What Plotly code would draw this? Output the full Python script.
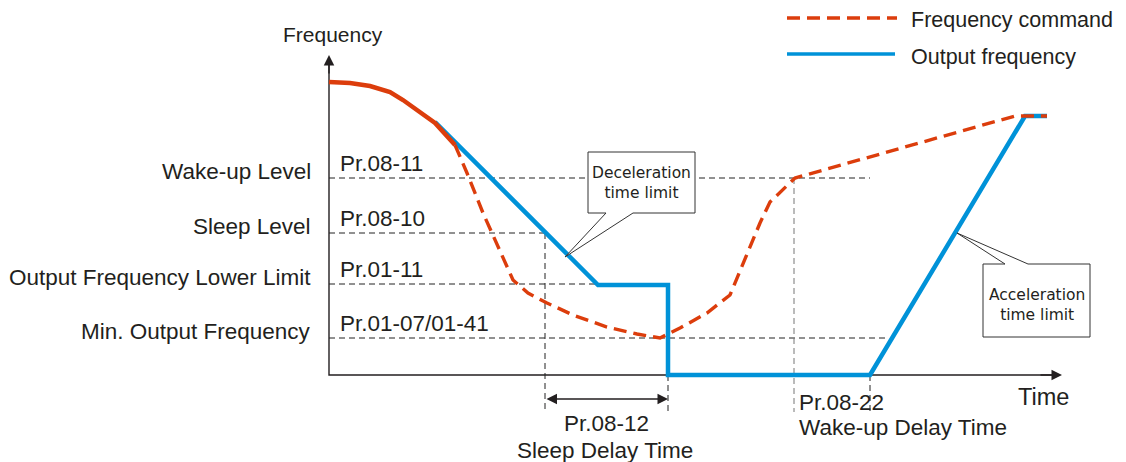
import plotly.graph_objects as go

# Drawing units: time to the right, frequency upwards, origin at the axis corner
cmd_solid_t = [0, 21, 41, 61, 74, 88, 106, 126]
cmd_solid_f = [293, 292, 289, 283, 275, 265, 252, 230]
cmd_dash_t = [126, 138, 154, 171, 184, 199, 218, 244, 278, 308, 331,
              351, 378, 401, 416, 431, 441, 451, 466, 686, 718]
cmd_dash_f = [230, 202, 162, 125, 95, 82, 72, 60, 48, 41, 37,
              47, 62, 80, 115, 152, 173, 183, 197, 259, 259]
out_t = [106, 269, 339, 339, 541, 696, 718]
out_f = [253, 90, 90, 0, 0, 259, 259]

level_names = ["Wake-up Level", "Sleep Level", "Output Frequency Lower Limit", "Min. Output Frequency"]
level_params = ["Pr.08-11", "Pr.08-10", "Pr.01-11", "Pr.01-07/01-41"]
level_f = [197, 142, 91, 37]
level_end_t = [541, 216, 339, 558]

marker_t = [216, 339, 465, 541]
marker_top = [142, 90, 197, 0]
marker_bottom = -37

sleep_delay = [216, 339]
wake_delay_start = 465

INK = "#231f20"
RED = "#dc3d0c"
BLUE = "#0092d8"
FONT = "Liberation Sans, Arial, sans-serif"

fig = go.Figure()

# axis lines
fig.add_trace(go.Scatter(x=[0, 0, 731], y=[318, 0, 0], mode="lines",
                         line=dict(color=INK, width=1.4), hoverinfo="skip"))

# level guide lines
for f, te in zip(level_f, level_end_t):
    fig.add_trace(go.Scatter(x=[0, te], y=[f, f], mode="lines",
                             line=dict(color="#222222", width=1, dash="6px,4px"),
                             hoverinfo="skip"))

# time marker lines
for i, (t, top) in enumerate(zip(marker_t, marker_top)):
    col = "#777777" if i == 2 else "#222222"
    fig.add_trace(go.Scatter(x=[t, t], y=[top, marker_bottom], mode="lines",
                             line=dict(color=col, width=1, dash="6px,4px"),
                             hoverinfo="skip"))

# output frequency
fig.add_trace(go.Scatter(x=out_t, y=out_f, mode="lines", name="Output frequency",
                         line=dict(color=BLUE, width=4.5)))
# frequency command
fig.add_trace(go.Scatter(x=cmd_solid_t, y=cmd_solid_f, mode="lines",
                         line=dict(color=RED, width=4.5), hoverinfo="skip"))
fig.add_trace(go.Scatter(x=cmd_dash_t, y=cmd_dash_f, mode="lines", name="Frequency command",
                         line=dict(color=RED, width=3.4, dash="13px,7px")))

ann = []


def text(x, y, s, size=22.5, xa="center", ya="middle", family=FONT):
    ann.append(dict(x=x, y=y, xref="x", yref="y", text=s, showarrow=False,
                    xanchor=xa, yanchor=ya, font=dict(family=family, size=size, color=INK)))


def arrow(x, y, ax, ay, side="end"):
    ann.append(dict(x=x, y=y, ax=ax, ay=ay, xref="x", yref="y", axref="x", ayref="y",
                    text="", showarrow=True, arrowhead=2, arrowsize=1.5, arrowwidth=1.4,
                    arrowcolor=INK, arrowside=side, standoff=0, startstandoff=0))


arrow(0, 320, 0, 300)
arrow(733, 0, 710, 0)
arrow(sleep_delay[1], -24, sleep_delay[0], -24, side="end+start")

for name, par, f in zip(level_names, level_params, level_f):
    text(-16, f + 7, name, xa="right")
    text(9, f + 15, par, xa="left")

text(4, 341, "Frequency", size=21)
text(714, -22, "Time", size=23.5)
text(sum(sleep_delay) / 2, -48, "Pr.08-12")
text(sum(sleep_delay) / 2 - 2, -75, "Sleep Delay Time")
text(wake_delay_start + 3, -27, "Pr.08-22", xa="left")
text(wake_delay_start + 3, -52, "Wake-up Delay Time", xa="left")

# legend
shapes = [
    dict(type="line", xref="x", yref="y", x0=458, x1=568, y0=357, y1=357,
         line=dict(color=RED, width=3.4, dash="13px,7px")),
    dict(type="line", xref="x", yref="y", x0=458, x1=566, y0=321, y1=321,
         line=dict(color=BLUE, width=3.5)),
]
text(580, 355, "Frequency command", size=21.5, xa="left")
text(580, 318, "Output frequency", size=21.5, xa="left")


# callout bubbles
def bubble(L, R, T, B, base, tip, side):
    if side == "bottom":
        p = (f"M{L},{T} L{R},{T} L{R},{B} L{base[1]},{B} L{tip[0]},{tip[1]} "
             f"L{base[0]},{B} L{L},{B} Z")
    else:
        p = (f"M{L},{T} L{base[0]},{T} L{tip[0]},{tip[1]} L{base[1]},{T} "
             f"L{R},{T} L{R},{B} L{L},{B} Z")
    shapes.append(dict(type="path", xref="x", yref="y", path=p, fillcolor="white",
                       line=dict(color="#333333", width=1), layer="above"))


bubble(259, 366, 223, 162, (277, 304), (236, 118), "bottom")
bubble(654, 761, 111, 38, (676, 699), (628, 142), "top")
text(312.5, 192, "Deceleration<br>time limit", size=15.5, family="DejaVu Sans, sans-serif")
text(707.5, 70, "Acceleration<br>time limit", size=15.5, family="DejaVu Sans, sans-serif")

# the page body keeps its default 8px margin, so the figure is 8px smaller
fig.update_layout(
    width=1118, height=454,
    margin=dict(l=0, r=0, t=0, b=0),
    paper_bgcolor="white", plot_bgcolor="white",
    showlegend=False,
    xaxis=dict(range=[-321, 797], visible=False, fixedrange=True),
    yaxis=dict(range=[-87, 367], visible=False, fixedrange=True),
    annotations=ann,
    shapes=shapes,
)

fig.write_html("out.html")
